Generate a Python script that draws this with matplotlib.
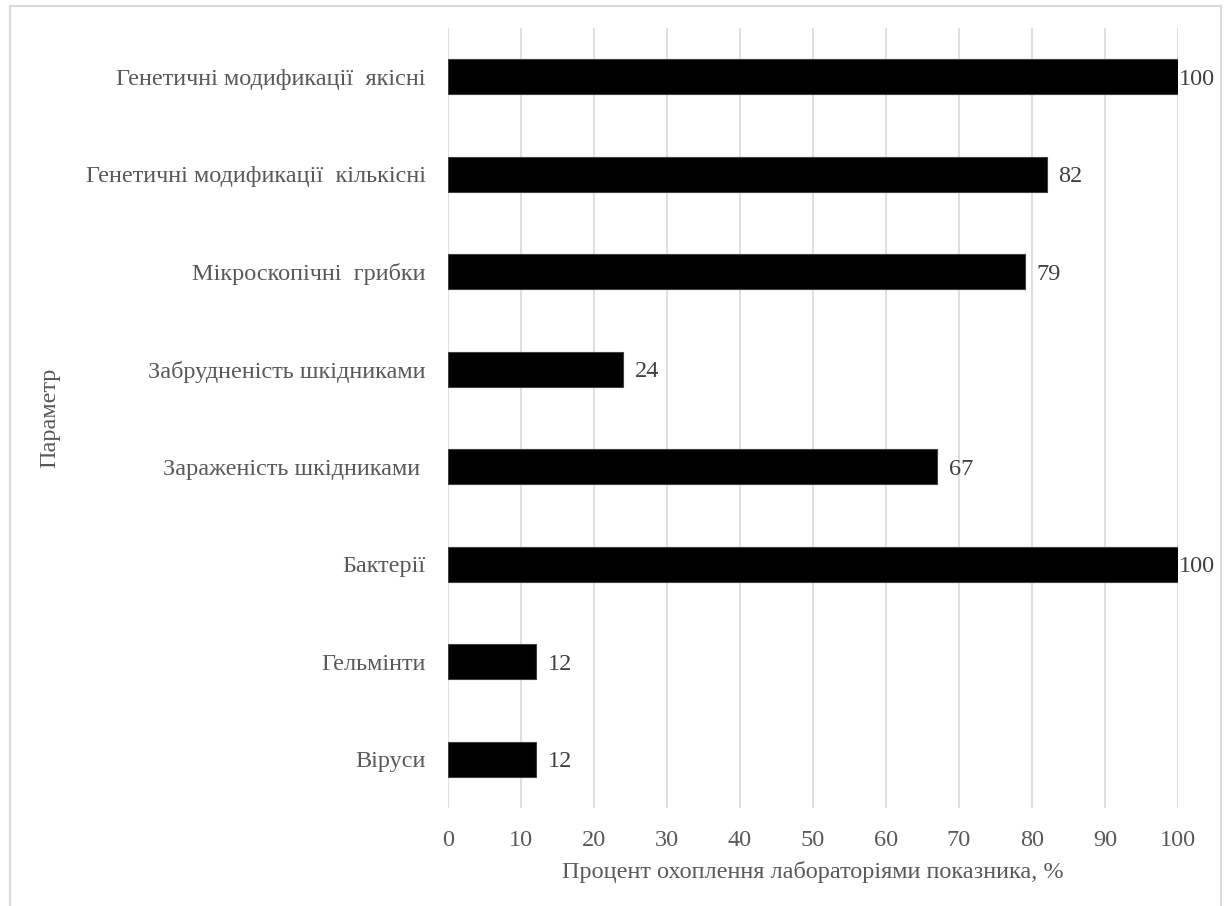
import matplotlib.pyplot as plt
import matplotlib.patches as patches

plt.rcParams['font.family'] = ['Liberation Serif', 'DejaVu Serif']

categories = [
    'Генетичні модификації  якісні',
    'Генетичні модификації  кількісні',
    'Мікроскопічні  грибки',
    'Забрудненість шкідниками',
    'Зараженість шкідниками ',
    'Бактерії',
    'Гельмінти',
    'Віруси',
]
values = [100, 82, 79, 24, 67, 100, 12, 12]
xticks = [0, 10, 20, 30, 40, 50, 60, 70, 80, 90, 100]

text_grey = '#595959'
grid_grey = '#d9d9d9'

fig = plt.figure(figsize=(12.26, 9.06), dpi=100)
ax = fig.add_axes([448 / 1226, 1 - 808 / 906, 730 / 1226, 780 / 906])

ypos = list(range(len(categories)))
bars = ax.barh(ypos, values, height=0.36, color='black',
               edgecolor='#404040', linewidth=0.8, zorder=3)

# value labels just past the bar end
for y, v in zip(ypos, values):
    off = 1 if v >= 100 else 12
    ax.annotate(str(v), (v, y), xytext=(off, 0), textcoords='offset pixels',
                ha='left', va='center_baseline', fontsize=17.5, color='#404040')

ax.set_xlim(0, 100)
ax.set_ylim(len(categories) - 0.5, -0.5)
ax.set_xticks(xticks)
ax.set_yticks(ypos)
ax.set_yticklabels(categories)
ax.grid(axis='x', color=grid_grey, linewidth=1.2, zorder=0)
ax.set_axisbelow(True)
for s in ax.spines.values():
    s.set_visible(False)
ax.tick_params(axis='both', length=0, labelsize=17.5, colors=text_grey)
ax.tick_params(axis='x', pad=16)
ax.tick_params(axis='y', pad=16)
for lbl in ax.get_yticklabels():
    lbl.set_verticalalignment('center_baseline')

ax.set_xlabel('Процент охоплення лабораторіями показника, %',
              fontsize=17.5, color=text_grey, labelpad=7)
fig.text(50 / 1226, 1 - 418 / 906, 'Параметр', rotation=90,
         ha='center', va='center', fontsize=17.5, color=text_grey)

# chart frame
frame = patches.Rectangle((10 / 1226, -0.05), 1211 / 1226, 1.05 - 6 / 906,
                          transform=fig.transFigure, fill=False,
                          edgecolor=grid_grey, linewidth=1.5)
fig.patches.append(frame)

fig.savefig('out.png', dpi=100)
